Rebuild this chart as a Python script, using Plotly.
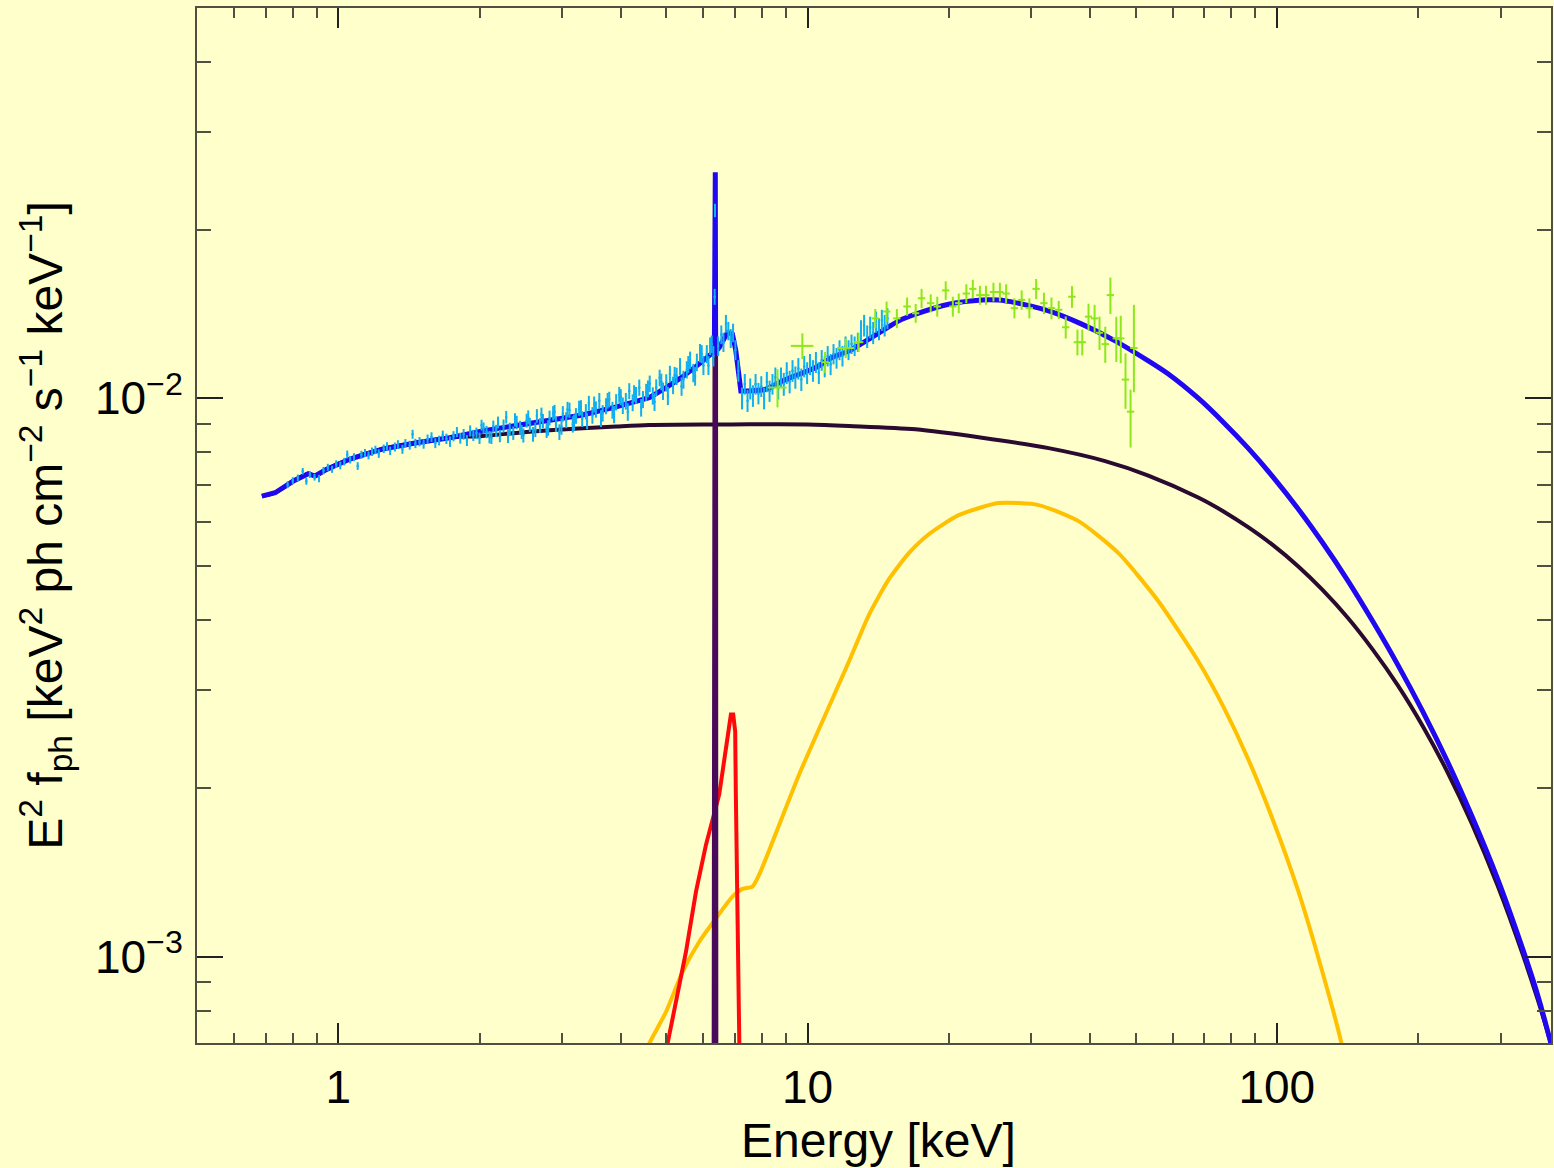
import math
import plotly.graph_objects as go

# ---------------- model components (energy in keV, E^2 f in units of 1e-3) ----------------
# total model: soft part (with the iron features) and the smooth hard part
total_lo_E = [0.6874, 0.7335, 0.8023, 0.8633, 0.8920, 0.9447, 1.059, 1.245, 1.468, 1.728,
              2.031, 2.395, 2.819, 3.314, 3.909, 4.601, 4.994, 5.409, 5.878, 6.226,
              6.33, 6.34, 6.36, 6.37, 6.482, 6.750, 6.918, 7.035, 7.210, 7.507]
total_lo_F = [6.678, 6.772, 7.107, 7.324, 7.255, 7.458, 7.781, 8.112, 8.324, 8.497,
              8.738, 8.920, 9.105, 9.333, 9.647, 10.025, 10.447, 10.919, 11.520, 11.994,
              12.05, 25.4, 25.4, 12.10, 12.324, 13.112, 13.025, 12.157, 10.306, 10.306]
total_hi_E = [7.507, 8.150, 8.841, 9.592, 10.41, 11.27, 12.26, 14.43, 15.65, 16.99,
              20.00, 23.54, 25.55, 27.72, 32.64, 38.41, 45.24, 53.24, 58.73, 68.01,
              77.0, 86.88, 98.0, 111.0, 125.0, 141.8, 160.0, 181.1, 205.0, 231.3,
              260.0, 295.5, 334.0, 360.0, 383.7]
total_hi_F = [10.306, 10.378, 10.740, 11.040, 11.347, 11.825, 12.157, 13.203, 13.758, 14.143,
              14.737, 15.002, 14.992, 14.835, 14.336, 13.574, 12.670, 11.665, 11.050, 10.00,
              9.05, 8.14, 7.24, 6.34, 5.52, 4.71, 3.99, 3.33, 2.74, 2.23,
              1.79, 1.377, 1.033, 0.851, 0.70]

# cut-off power law continuum
cont_E = [0.6874, 0.7335, 0.8023, 0.8633, 0.8920, 0.9447, 1.059, 1.245, 1.468, 1.728,
          2.031, 2.395, 2.819, 3.909, 4.601, 6.357, 7.507, 10.02, 12.26, 16.99,
          23.54, 32.64, 43.07, 53.24, 68.01, 77.0, 86.88, 98.0, 111.0, 125.0,
          141.8, 160.0, 181.1, 205.0, 231.3, 260.0, 295.5, 334.0, 360.0, 383.7]
cont_F = [6.678, 6.772, 7.107, 7.324, 7.255, 7.458, 7.781, 8.112, 8.324, 8.497,
          8.561, 8.668, 8.762, 8.899, 8.955, 8.974, 8.978, 8.974, 8.920, 8.798,
          8.497, 8.140, 7.717, 7.270, 6.640, 6.270, 5.875, 5.460, 5.000, 4.540,
          4.040, 3.550, 3.060, 2.580, 2.136, 1.735, 1.340, 1.011, 0.836, 0.700]

# narrow Fe K-alpha line
narrow_E = [6.33, 6.34, 6.36, 6.37]
narrow_F = [0.50, 13.4, 13.4, 0.50]

# relativistically broadened iron line
broad_E = [4.98, 5.032, 5.244, 5.508, 5.785, 6.075, 6.482, 6.699, 6.866, 6.944,
           7.012, 7.035, 7.092, 7.17]
broad_F = [0.66, 0.699, 0.830, 1.020, 1.307, 1.585, 1.949, 2.362, 2.712, 2.712,
           2.531, 1.949, 1.093, 0.62]

# Compton reflection hump
refl_E = [4.55, 4.601, 4.994, 5.416, 5.878, 6.379, 6.918, 7.265, 7.628, 7.884,
          9.592, 12.26, 13.51, 14.91, 16.44, 18.13, 20.99, 25.55, 31.08, 37.80,
          45.98, 55.93, 68.01, 76.88, 86.88, 98.2, 111.0, 122.4, 137.3, 142.0]
refl_F = [0.68, 0.699, 0.796, 0.939, 1.063, 1.170, 1.280, 1.322, 1.334, 1.400,
          2.117, 3.379, 4.089, 4.742, 5.279, 5.707, 6.173, 6.489, 6.436, 6.024,
          5.279, 4.329, 3.379, 2.806, 2.259, 1.753, 1.313, 1.000, 0.700, 0.60]

# ---------------- soft X-ray spectrum ----------------
xmm_E = [0.78, 0.80, 0.82, 0.84, 0.855, 0.87, 0.89, 0.91, 0.93, 0.95,
         0.97, 0.99, 1.01, 1.03, 1.045, 1.06, 1.08, 1.10, 1.12, 1.14,
         1.16, 1.18, 1.20, 1.22, 1.25, 1.27, 1.29, 1.32, 1.34, 1.37,
         1.39, 1.42, 1.44, 1.46, 1.49, 1.52, 1.55, 1.58, 1.61, 1.64,
         1.67, 1.70, 1.73, 1.76, 1.79, 1.82, 1.85, 1.88, 1.91, 1.94,
         1.97, 2.00, 2.04, 2.07, 2.10, 2.14, 2.17, 2.21, 2.25, 2.28,
         2.32, 2.36, 2.40, 2.44, 2.48, 2.52, 2.56, 2.60, 2.65, 2.69,
         2.73, 2.78, 2.82, 2.87, 2.91, 2.96, 3.01, 3.06, 3.11, 3.16,
         3.21, 3.26, 3.31, 3.37, 3.42, 3.48, 3.54, 3.60, 3.66, 3.72,
         3.78, 3.84, 3.91, 3.97, 4.04, 4.10, 4.17, 4.24, 4.31, 4.38,
         4.46, 4.53, 4.61, 4.68, 4.76, 4.84, 4.92, 5.00, 5.09, 5.17,
         5.26, 5.35, 5.44, 5.53, 5.62, 5.71, 5.81, 5.90, 6.00, 6.10,
         6.20, 6.30, 6.34, 6.35, 6.45, 6.55, 6.62, 6.70, 6.78, 6.86,
         6.94, 7.02, 7.12, 7.25, 7.35, 7.45, 7.55, 7.65, 7.75, 7.86,
         7.97, 8.08, 8.19, 8.30, 8.42, 8.54, 8.66, 8.78, 8.90, 9.03,
         9.16, 9.29, 9.42, 9.56, 9.70, 9.84, 9.98, 10.12, 10.27, 10.42,
         10.57, 10.72, 10.88, 11.04, 11.20, 11.36, 11.53, 11.70, 11.87, 12.05,
         12.23, 12.41, 12.60, 12.80, 13.00, 13.20, 13.40, 13.60, 13.80, 14.00,
         14.20, 14.40, 14.60, 14.80,
         2.02, 2.12, 2.19, 2.30, 2.38, 2.46, 2.54, 2.63, 2.71, 2.80,
         2.89, 2.99, 3.08, 3.18, 3.29, 3.39, 3.51, 3.63, 3.75, 3.87,
         4.00, 4.14, 4.27, 4.42, 4.57, 4.72, 4.88, 5.04, 5.21, 5.39,
         5.57, 5.76, 5.95, 6.15, 6.25]
xmm_F = [7.00, 7.12, 7.20, 7.40, 7.10, 7.30, 7.22, 7.18, 7.42, 7.52,
         7.46, 7.62, 7.58, 7.70, 7.93, 7.76, 7.84, 7.56, 7.92, 7.98,
         7.90, 8.02, 8.08, 7.96, 8.12, 8.20, 8.05, 8.18, 8.26, 8.10,
         8.30, 8.24, 8.62, 8.30, 8.36, 8.28, 8.45, 8.52, 8.31, 8.40,
         8.58, 8.46, 8.36, 8.55, 8.70, 8.48, 8.62, 8.40, 8.74, 8.58,
         8.66, 8.48, 8.85, 8.70, 8.52, 8.90, 8.74, 8.56, 8.92, 9.25,
         8.80, 8.66, 9.05, 8.86, 8.58, 9.12, 8.96, 8.62, 9.30, 8.94,
         9.10, 8.76, 9.22, 9.40, 8.98, 8.70, 9.38, 9.14, 9.52, 8.98,
         9.30, 9.60, 9.18, 9.46, 9.80, 9.32, 9.55, 9.90, 9.40, 9.68,
         9.95, 9.52, 9.84, 10.15, 9.70, 9.88, 10.30, 9.82, 10.12, 10.45,
         9.95, 10.25, 10.62, 10.10, 10.45, 10.88, 10.30, 10.66, 11.05, 10.55,
         10.95, 11.40, 10.80, 11.25, 11.70, 11.10, 11.60, 12.05, 11.45, 12.00,
         12.40, 11.90, 15.2, 21.7, 12.40, 13.00, 12.60, 13.60, 13.20, 12.80,
         13.10, 12.20, 11.20, 10.00, 10.60, 9.90, 10.40, 10.10, 10.60, 10.20,
         10.50, 10.00, 10.70, 10.30, 10.60, 10.90, 10.40, 10.90, 10.60, 11.10,
         10.70, 11.20, 10.90, 11.30, 10.80, 11.40, 11.10, 11.50, 11.20, 11.60,
         11.10, 11.70, 11.40, 11.90, 11.50, 12.00, 11.80, 12.20, 11.90, 12.40,
         12.20, 12.50, 12.40, 12.60, 13.20, 13.50, 12.90, 13.40, 13.10, 13.70,
         13.30, 13.80, 13.50, 13.90,
         8.95, 8.50, 9.05, 8.55, 9.15, 8.70, 9.25, 8.78, 9.35, 8.85,
         9.45, 8.90, 9.55, 9.05, 9.62, 9.10, 9.75, 9.20, 9.90, 9.35,
         10.05, 9.45, 10.20, 9.62, 10.40, 9.85, 10.70, 10.10, 11.00, 10.50,
         11.50, 10.95, 12.00, 11.45, 12.50]
xmm_err = [0.10, 0.10, 0.10, 0.10, 0.10, 0.10, 0.10, 0.11, 0.11, 0.11,
           0.11, 0.12, 0.12, 0.12, 0.13, 0.12, 0.13, 0.12, 0.13, 0.13,
           0.13, 0.14, 0.14, 0.14, 0.14, 0.14, 0.14, 0.15, 0.15, 0.15,
           0.15, 0.15, 0.16, 0.16, 0.16, 0.16, 0.16, 0.17, 0.17, 0.17,
           0.17, 0.18, 0.18, 0.18, 0.18, 0.19, 0.19, 0.19, 0.20, 0.20,
           0.20, 0.20, 0.20, 0.22, 0.22, 0.22, 0.22, 0.22, 0.24, 0.24,
           0.24, 0.24, 0.25, 0.25, 0.25, 0.26, 0.26, 0.26, 0.26, 0.27,
           0.27, 0.27, 0.28, 0.28, 0.28, 0.28, 0.30, 0.30, 0.30, 0.30,
           0.30, 0.30, 0.30, 0.30, 0.30, 0.32, 0.32, 0.32, 0.32, 0.32,
           0.32, 0.33, 0.33, 0.33, 0.33, 0.34, 0.34, 0.34, 0.35, 0.35,
           0.35, 0.36, 0.36, 0.36, 0.36, 0.37, 0.37, 0.38, 0.38, 0.38,
           0.39, 0.40, 0.40, 0.40, 0.42, 0.42, 0.42, 0.45, 0.45, 0.45,
           0.45, 0.50, 0.50, 0.60, 0.50, 0.50, 0.50, 0.50, 0.50, 0.50,
           0.50, 0.50, 0.50, 0.45, 0.45, 0.45, 0.45, 0.45, 0.45, 0.45,
           0.45, 0.45, 0.45, 0.45, 0.45, 0.45, 0.45, 0.45, 0.50, 0.50,
           0.50, 0.50, 0.50, 0.50, 0.50, 0.50, 0.50, 0.50, 0.50, 0.50,
           0.50, 0.50, 0.50, 0.50, 0.50, 0.50, 0.50, 0.50, 0.50, 0.50,
           0.50, 0.50, 0.50, 0.50, 0.60, 0.60, 0.60, 0.60, 0.60, 0.60,
           0.60, 0.60, 0.60, 0.60,
           0.20, 0.22, 0.22, 0.24, 0.25, 0.25, 0.26, 0.26, 0.27, 0.28,
           0.28, 0.30, 0.30, 0.30, 0.30, 0.30, 0.32, 0.32, 0.32, 0.33,
           0.33, 0.34, 0.35, 0.35, 0.36, 0.36, 0.37, 0.38, 0.38, 0.40,
           0.40, 0.42, 0.45, 0.45, 0.45]

# ---------------- hard X-ray spectrum ----------------
hard_E = [8.63, 9.75, 10.9, 12.06, 12.85, 13.94, 14.74, 15.5, 16.3, 17.0,
          17.5, 18.3, 18.9, 19.7, 20.4, 21.0, 21.8, 22.5, 23.3, 24.0,
          24.9, 25.7, 26.5, 27.6, 28.6, 29.7, 30.7, 31.9, 33.1, 34.3,
          35.5, 36.6, 37.6, 38.5, 39.7, 40.9, 41.9, 43.1, 44.2, 45.5,
          46.5, 47.6, 48.8, 49.6]
hard_F = [10.45, 12.41, 11.6, 12.3, 12.6, 13.9, 14.3, 13.9, 14.6, 14.2,
          15.1, 14.8, 14.6, 15.6, 14.6, 14.8, 15.4, 15.7, 15.3, 15.3,
          15.5, 15.5, 15.4, 14.5, 15.0, 14.5, 15.7, 14.8, 14.5, 14.4,
          13.4, 15.2, 12.6, 12.6, 14.0, 13.9, 13.1, 12.5, 15.3, 12.8,
          12.8, 10.8, 9.46, 12.3]
hard_err_hi = [0.82, 0.66, 0.50, 0.50, 0.50, 0.55, 0.60, 0.55, 0.55, 0.55,
               0.60, 0.55, 0.60, 0.60, 0.60, 0.60, 0.60, 0.60, 0.60, 0.60,
               0.60, 0.60, 0.60, 0.60, 0.60, 0.60, 0.65, 0.65, 0.65, 0.54,
               0.61, 0.68, 0.67, 0.67, 0.77, 0.80, 0.90, 0.93, 1.15, 1.19,
               1.25, 1.23, 0.90, 2.40]
hard_err_lo = [0.82, 0.66, 0.50, 0.50, 0.50, 0.55, 0.60, 0.55, 0.55, 0.55,
               0.60, 0.55, 0.60, 0.60, 0.60, 0.60, 0.60, 0.60, 0.60, 0.60,
               0.60, 0.60, 0.60, 0.60, 0.60, 0.60, 0.65, 0.65, 0.65, 0.54,
               0.61, 0.68, 0.67, 0.67, 0.77, 0.80, 0.90, 0.93, 1.15, 1.19,
               1.25, 1.23, 1.30, 2.05]
hard_dE = [0.40, 0.54, 0.20, 0.50, 0.30, 0.25, 0.27, 0.28, 0.30, 0.30,
           0.32, 0.33, 0.34, 0.35, 0.37, 0.38, 0.39, 0.40, 0.42, 0.43,
           0.45, 0.46, 0.48, 0.50, 0.51, 0.53, 0.55, 0.57, 0.60, 0.62,
           0.64, 0.66, 0.68, 0.69, 0.71, 0.74, 0.75, 0.78, 0.80, 0.82,
           0.84, 0.86, 0.88, 0.90]

SCALE = 1e-3

# axis ticks
x_major = [1, 10, 100]
x_major_text = ["1", "10", "100"]
x_minor = [0.5, 0.6, 0.7, 0.8, 0.9, 2, 3, 4, 5, 6, 7, 8, 9,
           20, 30, 40, 50, 60, 70, 80, 90, 200, 300]
y_major = [1e-3, 1e-2]
y_major_text = ["10<sup>\u22123</sup>", "10<sup>\u22122</sup>"]
y_minor = [8e-4, 9e-4, 2e-3, 3e-3, 4e-3, 5e-3, 6e-3, 7e-3, 8e-3, 9e-3,
           2e-2, 3e-2, 4e-2, 5e-2]


def scaled(vals):
    return [v * SCALE for v in vals]


fig = go.Figure()

# reflection hump
fig.add_trace(go.Scatter(x=refl_E, y=scaled(refl_F), mode="lines",
                         line=dict(color="#FFC000", width=4, shape="spline", smoothing=0.6),
                         hoverinfo="skip"))
# broad iron line
fig.add_trace(go.Scatter(x=broad_E, y=scaled(broad_F), mode="lines",
                         line=dict(color="#FF0A0A", width=4), hoverinfo="skip"))
# cut-off power law continuum
fig.add_trace(go.Scatter(x=cont_E, y=scaled(cont_F), mode="lines",
                         line=dict(color="#2A0A30", width=4, shape="spline", smoothing=0.8),
                         hoverinfo="skip"))
# narrow Fe K alpha line
fig.add_trace(go.Scatter(x=narrow_E, y=scaled(narrow_F), mode="lines",
                         line=dict(color="#4A0A5C", width=5.5), hoverinfo="skip"))
# total model
fig.add_trace(go.Scatter(x=total_lo_E, y=scaled(total_lo_F), mode="lines",
                         line=dict(color="#2008F0", width=5), hoverinfo="skip"))
fig.add_trace(go.Scatter(x=total_hi_E, y=scaled(total_hi_F), mode="lines",
                         line=dict(color="#2008F0", width=5, shape="spline", smoothing=0.8),
                         hoverinfo="skip"))
# soft X-ray data
fig.add_trace(go.Scatter(
    x=xmm_E, y=scaled(xmm_F), mode="markers",
    marker=dict(color="#10AEF2", size=2),
    error_y=dict(type="data", array=scaled(xmm_err), color="#10AEF2",
                 thickness=2, width=0),
    error_x=dict(type="percent", value=0.5, color="#10AEF2", thickness=2, width=0),
    hoverinfo="skip"))
# hard X-ray data
fig.add_trace(go.Scatter(
    x=hard_E, y=scaled(hard_F), mode="markers",
    marker=dict(color="#8CE81A", size=2),
    error_y=dict(type="data", array=scaled(hard_err_hi),
                 arrayminus=scaled(hard_err_lo), symmetric=False,
                 color="#8CE81A", thickness=2, width=0),
    error_x=dict(type="data", array=hard_dE, color="#8CE81A", thickness=2, width=0),
    hoverinfo="skip"))

axis_line = "#505040"
tick_font = dict(family="Liberation Sans, Arial, sans-serif", size=46, color="black")

fig.update_xaxes(
    type="log", range=[math.log10(0.5), math.log10(384)],
    showline=True, linecolor=axis_line, linewidth=2, mirror="allticks",
    ticks="inside", ticklen=20, tickwidth=1.5, tickcolor="#222222",
    tickvals=x_major, ticktext=x_major_text, tickfont=tick_font,
    ticklabelstandoff=3,
    showgrid=False, zeroline=False,
    minor=dict(ticks="inside", ticklen=10, tickwidth=1.5, tickcolor=axis_line,
               tickvals=x_minor, showgrid=False),
)
fig.update_yaxes(
    type="log", range=[math.log10(7e-4), math.log10(0.05)],
    showline=True, linecolor=axis_line, linewidth=2, mirror="allticks",
    ticks="inside", ticklen=26, tickwidth=1.5, tickcolor="#222222",
    tickvals=y_major, ticktext=y_major_text, tickfont=tick_font,
    ticklabelstandoff=3,
    showgrid=False, zeroline=False,
    minor=dict(ticks="inside", ticklen=14, tickwidth=1.5, tickcolor=axis_line,
               tickvals=y_minor, showgrid=False),
)

title_font = dict(family="Liberation Sans, Arial, sans-serif", size=48, color="black")
fig.add_annotation(
    text="E<sup>2</sup> f<sub>ph</sub> [keV<sup>2</sup> ph cm<sup>\u22122</sup> "
         "s<sup>\u22121</sup> keV<sup>\u22121</sup>]",
    xref="paper", yref="paper", x=-0.1121, y=0.5, textangle=-90,
    xanchor="center", yanchor="middle", showarrow=False, font=title_font)
fig.add_annotation(
    text="Energy [keV]", xref="paper", yref="paper", x=0.503, y=-0.094,
    xanchor="center", yanchor="middle", showarrow=False, font=title_font)

fig.update_layout(
    width=1554, height=1168,
    margin=dict(l=197, r=1, t=8, b=125),
    plot_bgcolor="#FFFFCC", paper_bgcolor="#FFFFCC",
    showlegend=False,
    font=dict(family="Liberation Sans, Arial, sans-serif"),
)

fig.write_html("out.html")
